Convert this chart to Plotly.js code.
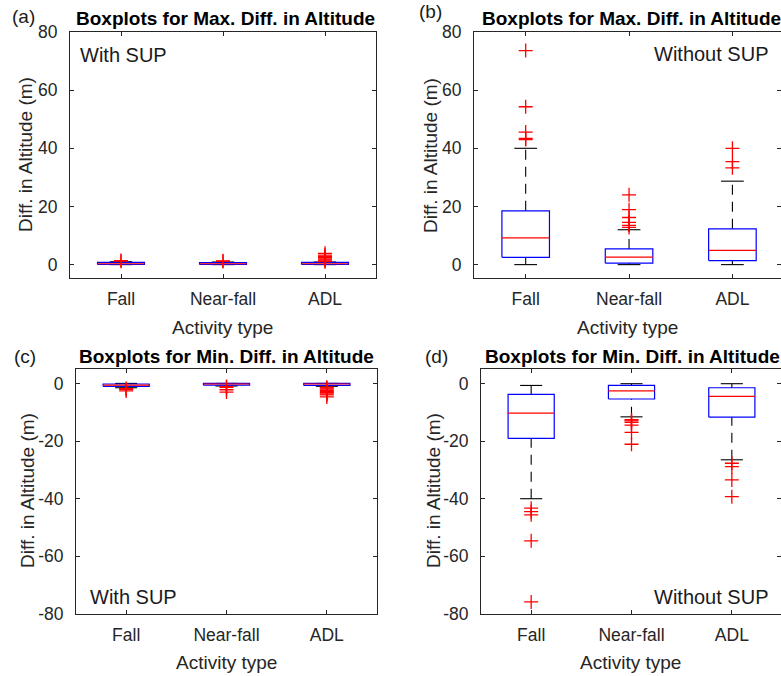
<!DOCTYPE html>
<html>
<head>
<meta charset="utf-8">
<script src="https://cdn.plot.ly/plotly-3.0.1.min.js"></script>
<style>
  html, body { margin: 0; padding: 0; background: #fff; }
  #chart { width: 781px; height: 676px; }
</style>
</head>
<body>
<div id="chart"></div>
<script>
// Activity categories on the x axis
const categories = ['Fall', 'Near-fall', 'ADL'];
const catPos = [1, 2, 3];

// Y tick labels
const maxTickVals = [0, 20, 40, 60, 80];
const maxTickText = ['0', '20', '40', '60', '80'];
const minTickVals = [-80, -60, -40, -20, 0];
const minTickText = ['-80', '-60', '-40', '-20', '0'];

// (a) Max. diff. in altitude, with SUP (m)
const maxWithLowerWhisker = [0, 0, 0];
const maxWithQ1 = [0.05, 0.05, 0.05];
const maxWithMedian = [0.3, 0.3, 0.3];
const maxWithQ3 = [0.8, 0.7, 0.8];
const maxWithUpperWhisker = [1.0, 0.9, 0.9];
const maxWithOutFall = [1.2, 1.4];
const maxWithOutNearFall = [1.1, 1.3];
const maxWithOutADL = [1.0, 1.3, 1.6, 2.0, 2.4, 2.8, 3.3, 3.9];

// (b) Max. diff. in altitude, without SUP (m)
const maxWithoutLowerWhisker = [0, 0, 0];
const maxWithoutQ1 = [2.5, 0.5, 1.4];
const maxWithoutMedian = [9.2, 2.6, 4.9];
const maxWithoutQ3 = [18.5, 5.4, 12.3];
const maxWithoutUpperWhisker = [40, 12, 28.7];
const maxWithoutOutFall = [43.0, 43.4, 45.6, 54.3, 73.6];
const maxWithoutOutNearFall = [12.8, 13.5, 14.5, 16.2, 18.9, 24.0];
const maxWithoutOutADL = [33.3, 35.4, 40.0];

// (c) Min. diff. in altitude, with SUP (m)
const minWithLowerWhisker = [-1.5, -0.9, -1.0];
const minWithQ1 = [-1.0, -0.6, -0.7];
const minWithMedian = [-0.6, -0.2, -0.2];
const minWithQ3 = [-0.2, 0, 0];
const minWithUpperWhisker = [0, 0, 0];
const minWithOutFall = [-1.8, -2.1, -2.6];
const minWithOutNearFall = [-1.1, -1.4, -2.2, -3.0];
const minWithOutADL = [-1.3, -1.6, -2.0, -2.4, -2.8, -3.2, -3.6, -4.0, -4.7];

// (d) Min. diff. in altitude, without SUP (m)
const minWithoutLowerWhisker = [-40, -11.6, -26.5];
const minWithoutQ1 = [-19.1, -5.4, -11.7];
const minWithoutMedian = [-10.3, -2.6, -4.5];
const minWithoutQ3 = [-3.8, -0.7, -1.5];
const minWithoutUpperWhisker = [-0.7, -0.1, -0.1];
const minWithoutOutFall = [-43.3, -44.5, -45.6, -54.6, -75.8];
const minWithoutOutNearFall = [-12.6, -13.0, -13.5, -14.5, -17.0, -21.1];
const minWithoutOutADL = [-27.7, -28.9, -33.5, -39.3];

const FONT = 'Liberation Sans, Arial, Helvetica, sans-serif';
const AXIS_COLOR = '#262626';
const BOX_HALF = 0.23;
const CAP_HALF = 0.11;
const W = 781, H = 676;

function segments(build) {
  const xs = [], ys = [];
  catPos.forEach((p, i) => build(p, i).forEach(seg => {
    xs.push(seg[0], seg[2], null);
    ys.push(seg[1], seg[3], null);
  }));
  return { x: xs, y: ys };
}

// Build the traces of one MATLAB-style boxplot panel
function boxPanel(xa, ya, lw, q1, med, q3, uw, outliers) {
  const lineTrace = (seg, line) => ({
    type: 'scatter', mode: 'lines', xaxis: xa, yaxis: ya,
    x: seg.x, y: seg.y, line: line, hoverinfo: 'skip', showlegend: false
  });
  // dashed black whiskers
  const whiskers = segments((p, i) => [[p, q3[i], p, uw[i]], [p, lw[i], p, q1[i]]]);
  // solid whisker caps
  const caps = segments((p, i) => [
    [p - CAP_HALF, uw[i], p + CAP_HALF, uw[i]],
    [p - CAP_HALF, lw[i], p + CAP_HALF, lw[i]]
  ]);
  // blue boxes from the quartiles
  const bx = [], by = [];
  catPos.forEach((p, i) => {
    bx.push(p - BOX_HALF, p + BOX_HALF, p + BOX_HALF, p - BOX_HALF, p - BOX_HALF, null);
    by.push(q1[i], q1[i], q3[i], q3[i], q1[i], null);
  });
  // red medians
  const medians = segments((p, i) => [[p - BOX_HALF, med[i], p + BOX_HALF, med[i]]]);
  // red '+' outliers
  const ox = [], oy = [];
  outliers.forEach((vals, i) => vals.forEach(v => { ox.push(catPos[i]); oy.push(v); }));
  return [
    lineTrace(whiskers, { color: '#000', width: 1.1, dash: '10px,7px' }),
    lineTrace(caps, { color: '#000', width: 1.1 }),
    lineTrace({ x: bx, y: by }, { color: 'rgb(0,0,255)', width: 1.2 }),
    lineTrace(medians, { color: 'rgb(255,0,0)', width: 1.2 }),
    {
      type: 'scatter', mode: 'markers', xaxis: xa, yaxis: ya, x: ox, y: oy,
      marker: { symbol: 'cross-thin-open', size: 10, color: 'rgb(255,0,0)',
                line: { color: 'rgb(255,0,0)', width: 1.3 } },
      hoverinfo: 'skip', showlegend: false
    }
  ];
}

const data = [].concat(
  boxPanel('x', 'y', maxWithLowerWhisker, maxWithQ1, maxWithMedian, maxWithQ3, maxWithUpperWhisker,
           [maxWithOutFall, maxWithOutNearFall, maxWithOutADL]),
  boxPanel('x2', 'y2', maxWithoutLowerWhisker, maxWithoutQ1, maxWithoutMedian, maxWithoutQ3, maxWithoutUpperWhisker,
           [maxWithoutOutFall, maxWithoutOutNearFall, maxWithoutOutADL]),
  boxPanel('x3', 'y3', minWithLowerWhisker, minWithQ1, minWithMedian, minWithQ3, minWithUpperWhisker,
           [minWithOutFall, minWithOutNearFall, minWithOutADL]),
  boxPanel('x4', 'y4', minWithoutLowerWhisker, minWithoutQ1, minWithoutMedian, minWithoutQ3, minWithoutUpperWhisker,
           [minWithoutOutFall, minWithoutOutNearFall, minWithoutOutADL])
);

const tickFont = { family: FONT, size: 17.5, color: AXIS_COLOR };

function xAxis(left, right, range, anchor) {
  return {
    domain: [left / W, right / W], range: range, anchor: anchor,
    tickmode: 'array', tickvals: catPos, ticktext: categories,
    ticks: 'inside', ticklen: 4, tickcolor: AXIS_COLOR, tickwidth: 1,
    showline: true, linecolor: AXIS_COLOR, linewidth: 1, mirror: 'ticks',
    showgrid: false, zeroline: false, tickfont: tickFont, ticklabelstandoff: 5,
    fixedrange: true
  };
}
function yAxis(top, bottom, range, vals, text, anchor) {
  return {
    domain: [1 - bottom / H, 1 - top / H], range: range, anchor: anchor,
    tickmode: 'array', tickvals: vals, ticktext: text,
    ticks: 'inside', ticklen: 4, tickcolor: AXIS_COLOR, tickwidth: 1,
    showline: true, linecolor: AXIS_COLOR, linewidth: 1, mirror: 'ticks',
    showgrid: false, zeroline: false, tickfont: tickFont, ticklabelstandoff: 8,
    fixedrange: true
  };
}

function note(text, x, y, opts) {
  return Object.assign({
    text: text, xref: 'paper', yref: 'paper', x: x / W, y: 1 - y / H,
    xanchor: 'center', yanchor: 'middle', showarrow: false,
    font: { family: FONT, size: 19, color: '#1a1a1a' }
  }, opts || {});
}

const titleFont = { family: FONT, size: 19, color: '#000' };
const labelFont = { family: FONT, size: 19, color: AXIS_COLOR };
const insetFont = { family: FONT, size: 20, color: '#1a1a1a' };

const annotations = [
  // panel letters
  note('(a)', 10, 17, { xanchor: 'left' }),
  note('(b)', 417, 11, { xanchor: 'left' }),
  note('(c)', 12, 356, { xanchor: 'left' }),
  note('(d)', 423, 356, { xanchor: 'left' }),
  // panel titles
  note('<b>Boxplots for Max. Diff. in Altitude</b>', 225, 18, { font: titleFont }),
  note('<b>Boxplots for Max. Diff. in Altitude</b>', 631, 18, { font: titleFont }),
  note('<b>Boxplots for Min. Diff. in Altitude</b>', 226, 356, { font: titleFont }),
  note('<b>Boxplots for Min. Diff. in Altitude</b>', 632, 356, { font: titleFont }),
  // axis titles
  note('Activity type', 222, 327, { font: labelFont }),
  note('Activity type', 627, 327, { font: labelFont }),
  note('Activity type', 226, 662, { font: labelFont }),
  note('Activity type', 630, 662, { font: labelFont }),
  note('Diff. in Altitude (m)', 25, 155, { font: labelFont, textangle: -90 }),
  note('Diff. in Altitude (m)', 430, 155, { font: labelFont, textangle: -90 }),
  note('Diff. in Altitude (m)', 27, 491, { font: labelFont, textangle: -90 }),
  note('Diff. in Altitude (m)', 433, 491, { font: labelFont, textangle: -90 }),
  // inset labels
  note('With SUP', 78, 55, { xanchor: 'left', font: insetFont }),
  note('Without SUP', 770, 54, { xanchor: 'right', font: insetFont }),
  note('With SUP', 88, 597, { xanchor: 'left', font: insetFont }),
  note('Without SUP', 770, 597, { xanchor: 'right', font: insetFont })
];

const layout = {
  width: W, height: H,
  margin: { l: 0, r: 0, t: 0, b: 0 },
  paper_bgcolor: '#fff', plot_bgcolor: '#fff',
  showlegend: false,
  font: { family: FONT, color: AXIS_COLOR },
  xaxis: xAxis(70, 376, [0.5, 3.5], 'y'),
  yaxis: yAxis(32, 278, [-4.6, 80], maxTickVals, maxTickText, 'x'),
  xaxis2: xAxis(474, 781, [0.5, 3.47], 'y2'),
  yaxis2: yAxis(32, 278, [-4.6, 80], maxTickVals, maxTickText, 'x2'),
  xaxis3: xAxis(76, 377, [0.5, 3.5], 'y3'),
  yaxis3: yAxis(369, 614, [-80, 5], minTickVals, minTickText, 'x3'),
  xaxis4: xAxis(481, 781, [0.5, 3.49], 'y4'),
  yaxis4: yAxis(369, 614, [-80, 5], minTickVals, minTickText, 'x4'),
  annotations: annotations
};

Plotly.newPlot('chart', data, layout, { staticPlot: true, displayModeBar: false });
</script>
</body>
</html>
